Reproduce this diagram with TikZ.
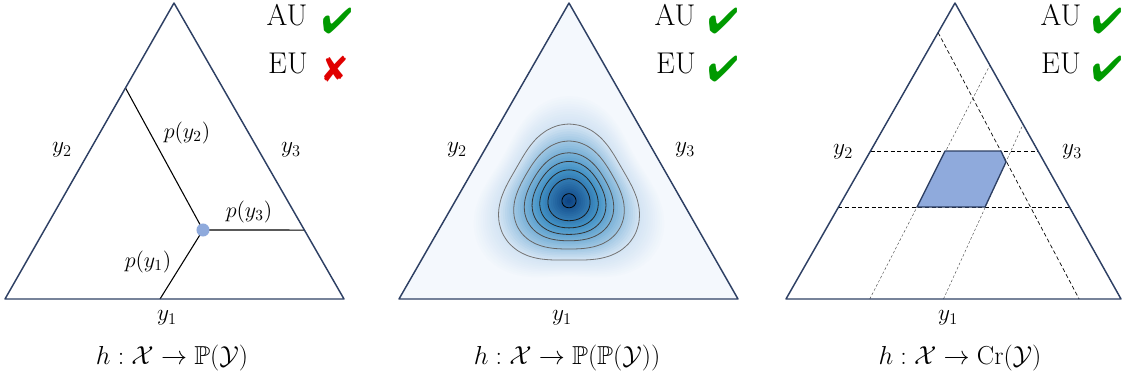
\RequirePackage{fix-cm}
\documentclass[tikz,border=0pt]{standalone}
\usepackage{amsmath,amssymb}
\usepackage{pifont}
\usetikzlibrary{positioning,calc}

\definecolor{azulescuro}{HTML}{2E4064}
\definecolor{azulclaro}{HTML}{8FAADC}
\definecolor{fundo}{HTML}{F4F8FD}
\definecolor{faixa1}{HTML}{D2E3F3}
\definecolor{faixa2}{HTML}{4292C6}
\definecolor{faixa3}{HTML}{0A3F80}
\definecolor{verde}{HTML}{009A00}
\definecolor{vermelho}{HTML}{E00000}

\tikzset{
  lado/.style={draw=azulescuro, line width=1.1pt, line join=round},
  rotulo/.style={font=\fontsize{17.5}{20}\selectfont},
  prob/.style={font=\fontsize{16.5}{19}\selectfont},
  legenda/.style={font=\fontsize{19.5}{23}\selectfont},
  incerteza/.style={font=\fontsize{22.5}{26}\selectfont},
  marca/.style={font=\fontsize{27}{30}\selectfont, inner sep=0pt},
  tracejado/.style={dash pattern=on 3pt off 2pt, line width=0.5pt},
  fino/.style={dash pattern=on 2pt off 1.5pt, line width=0.3pt, black!75},
  contorno/.style={line width=0.6pt},
}

\newcommand{\certo}{\textcolor{verde}{\ding{52}}}
\newcommand{\errado}{\textcolor{vermelho}{\ding{56}}}

\begin{document}
\begin{tikzpicture}[x=0.75pt,y=-0.75pt]
    \useasboundingbox (0,0) rectangle (1123,379);

    % Vertices
    \coordinate (A1) at (5,299);   \coordinate (B1) at (344,299);  \coordinate (C1) at (174,3);
    \coordinate (A2) at (399,299); \coordinate (B2) at (738,299);  \coordinate (C2) at (569,3);
    \coordinate (A3) at (786,299); \coordinate (B3) at (1121,299); \coordinate (C3) at (955,3);

    % Simplex 1: ponto
    \coordinate (P) at (203,230);
    \coordinate (P1) at (160,299);
    \coordinate (P2) at ($(A1)!0.713!(C1)$);
    \coordinate (P3) at ($(B1)!0.233!(C1)$);
    \draw[line width=0.8pt] (P) -- (P2) (P) -- (P1) (P) -- (P3);
    \draw[lado] (A1) -- (B1) -- (C1) -- cycle;
    \fill[azulclaro] (P) circle (4.9pt);

    \node[prob] (py2) at (187,133) {$p(y_2)$};
    \node[prob] (py3) at (249,212) {$p(y_3)$};
    \node[prob] (py1) at (148,262) {$p(y_1)$};

    % Simplex 2: densidade
    \fill[fundo] (A2) -- (B2) -- (C2) -- cycle;
    \foreach \s in {92,90,...,68}{
        \pgfmathsetmacro{\p}{(92-\s)/24*100}
        \pgfmathsetmacro{\a}{0.0015*\s}
        \pgfmathsetmacro{\yc}{201-0.03*\s}
        \fill[faixa1!\p!fundo] plot[smooth cycle, samples=40, domain=0:351, variable=\t]
            ({569+\s*(1+\a*cos(3*(\t-90)))*cos(\t)},{\yc-\s*(1+\a*cos(3*(\t-90)))*sin(\t)});
    }
    \foreach \s in {66,64,...,30}{
        \pgfmathsetmacro{\p}{(68-\s)/38*100}
        \pgfmathsetmacro{\a}{0.0015*\s}
        \pgfmathsetmacro{\yc}{201-0.03*\s}
        \fill[faixa2!\p!faixa1] plot[smooth cycle, samples=40, domain=0:351, variable=\t]
            ({569+\s*(1+\a*cos(3*(\t-90)))*cos(\t)},{\yc-\s*(1+\a*cos(3*(\t-90)))*sin(\t)});
    }
    \foreach \s in {28,26,...,2}{
        \pgfmathsetmacro{\p}{(30-\s)/30*100}
        \pgfmathsetmacro{\a}{0.0015*\s}
        \pgfmathsetmacro{\yc}{201-0.03*\s}
        \fill[faixa3!\p!faixa2] plot[smooth cycle, samples=40, domain=0:351, variable=\t]
            ({569+\s*(1+\a*cos(3*(\t-90)))*cos(\t)},{\yc-\s*(1+\a*cos(3*(\t-90)))*sin(\t)});
    }
    % curvas de nivel
    \foreach \s/\cor in {68/black!55, 54/black!60, 44/black!70, 36.5/black!80, 29/black!85, 21/black!90, 7/black}{
        \pgfmathsetmacro{\a}{0.0015*\s}
        \pgfmathsetmacro{\yc}{201-0.03*\s}
        \draw[contorno,\cor] plot[smooth cycle, samples=40, domain=0:351, variable=\t]
            ({569+\s*(1+\a*cos(3*(\t-90)))*cos(\t)},{\yc-\s*(1+\a*cos(3*(\t-90)))*sin(\t)});
    }
    \draw[lado] (A2) -- (B2) -- (C2) -- cycle;

    % Simplex 3: conjunto credal
    \draw[tracejado] ($(A3)!0.5!(C3)$) -- ($(B3)!0.5!(C3)$);
    \draw[tracejado] ($(A3)!0.31!(C3)$) -- ($(B3)!0.31!(C3)$);
    \draw[tracejado] ($(A3)!0.9!(C3)$) -- ($(A3)!0.875!(B3)$);
    \draw[fino] ($(A3)!0.25!(B3)$) -- ($(B3)!0.79!(C3)$);
    \draw[fino] ($(A3)!0.47!(B3)$) -- ($(B3)!0.59!(C3)$);
    \coordinate (Q1) at (945,151);
    \coordinate (Q2) at (1001,151);
    \coordinate (Q3) at (1006,162);
    \coordinate (Q4) at (985,207);
    \coordinate (Q5) at (917,207);
    \filldraw[fill=azulclaro, draw=azulescuro, line width=1pt, line join=round]
        (Q1) -- (Q2) -- (Q3) -- (Q4) -- (Q5) -- cycle;
    \draw[lado] (A3) -- (B3) -- (C3) -- cycle;

    % Rotulos dos vertices
    \node[rotulo] (y11) at (167,318) {$y_1$};
    \node[rotulo] (y21) at (62,150) {$y_2$};
    \node[rotulo] (y31) at (291,150) {$y_3$};
    \node[rotulo] (y12) at (562,318) {$y_1$};
    \node[rotulo] (y22) at (457,150) {$y_2$};
    \node[rotulo] (y32) at (685,150) {$y_3$};
    \node[rotulo] (y13) at (948,318) {$y_1$};
    \node[rotulo] (y23) at (843,152) {$y_2$};
    \node[rotulo] (y33) at (1072,152) {$y_3$};

    % Legendas
    \node[legenda] (h1) at (172,358) {$h:\mathcal{X}\rightarrow\mathbb{P}(\mathcal{Y})$};
    \node[legenda] (h2) at (567,358) {$h:\mathcal{X}\rightarrow\mathbb{P}(\mathbb{P}(\mathcal{Y}))$};
    \node[legenda] (h3) at (960,358) {$h:\mathcal{X}\rightarrow\mathrm{Cr}(\mathcal{Y})$};

    % AU / EU
    \node[incerteza] (au1) at (287,15) {AU};
    \node[incerteza] (eu1) at (288,63) {EU};
    \node[marca] (okau1) at (337,21) {\certo};
    \node[marca] (noeu1) at (335,69) {\errado};
    \node[incerteza] (au2) at (675,15) {AU};
    \node[incerteza] (eu2) at (676,63) {EU};
    \node[marca] (okau2) at (723,21) {\certo};
    \node[marca] (okeu2) at (723,69) {\certo};
    \node[incerteza] (au3) at (1061,15) {AU};
    \node[incerteza] (eu3) at (1061,63) {EU};
    \node[marca] (okau3) at (1107,21) {\certo};
    \node[marca] (okeu3) at (1107,69) {\certo};
\end{tikzpicture}
\end{document}
